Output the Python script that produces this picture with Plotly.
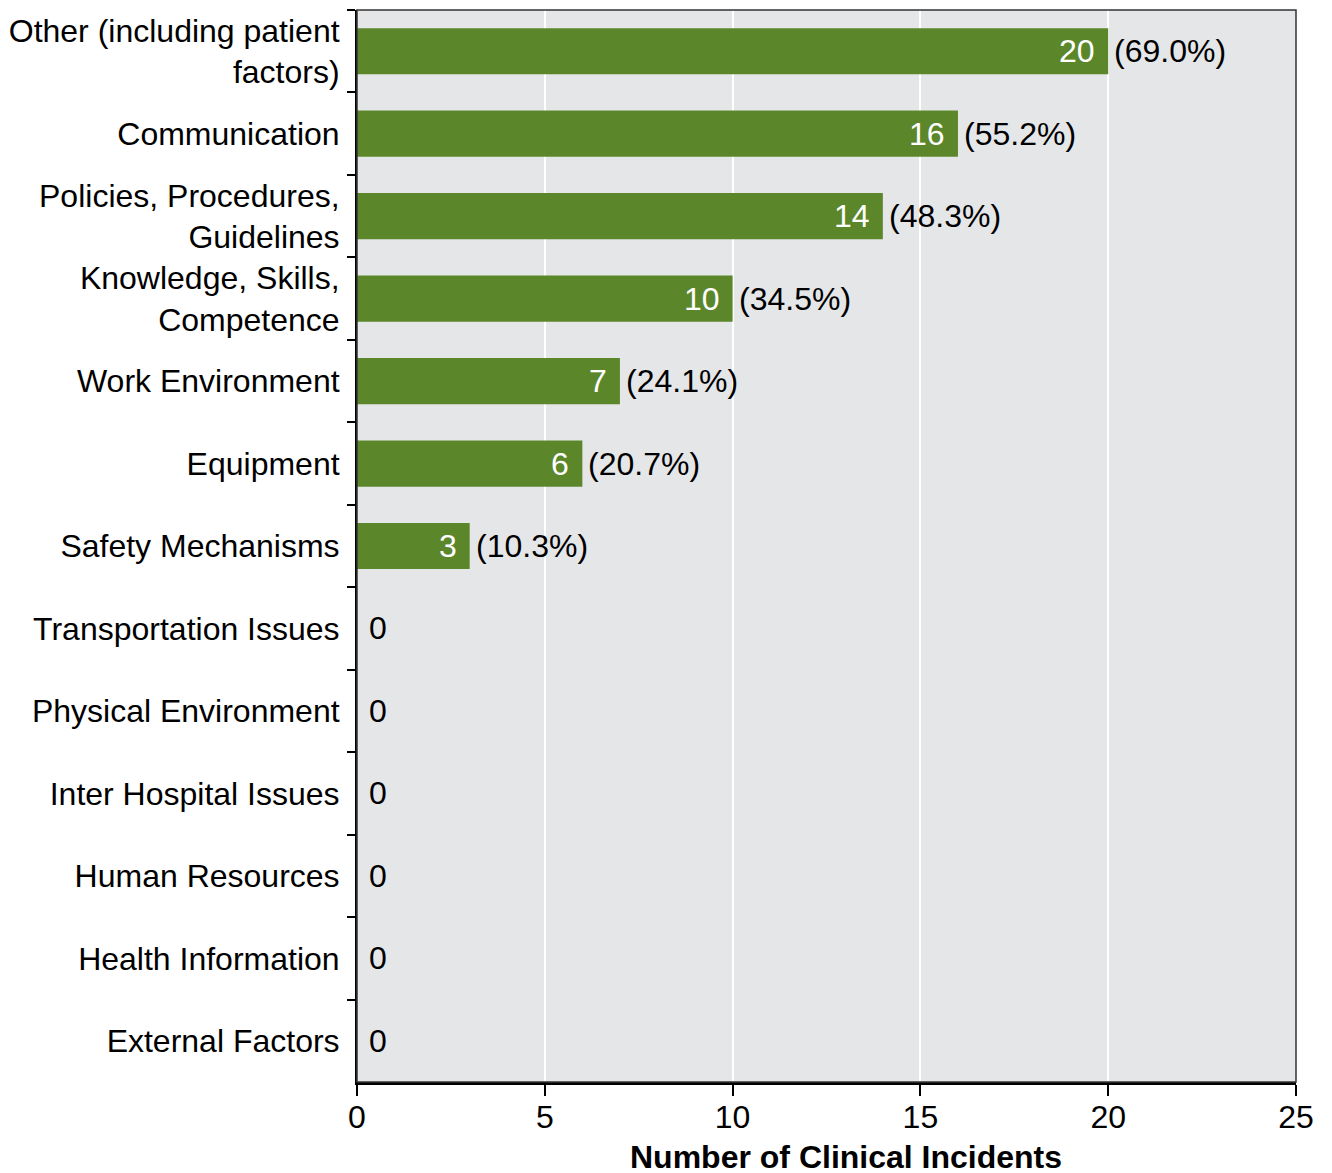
import plotly.graph_objects as go

categories = [
    "Other (including patient<br>factors)",
    "Communication",
    "Policies, Procedures,<br>Guidelines",
    "Knowledge, Skills,<br>Competence",
    "Work Environment",
    "Equipment",
    "Safety Mechanisms",
    "Transportation Issues",
    "Physical Environment",
    "Inter Hospital Issues",
    "Human Resources",
    "Health Information",
    "External Factors",
]
counts = [20, 16, 14, 10, 7, 6, 3, 0, 0, 0, 0, 0, 0]
percent_labels = ["(69.0%)", "(55.2%)", "(48.3%)", "(34.5%)", "(24.1%)", "(20.7%)", "(10.3%)",
                  "", "", "", "", "", ""]
x_ticks = [0, 5, 10, 15, 20, 25]
x_title = "Number of Clinical Incidents"

FONT = "Liberation Sans, Arial, Helvetica, sans-serif"
FS = 32
GREEN = "#5b872a"

fig = go.Figure()
fig.add_trace(go.Bar(
    y=categories, x=counts, orientation="h",
    marker=dict(color=GREEN, line=dict(width=0)),
    hoverinfo="x+y",
))

annotations = []
for cat, c, p in zip(categories, counts, percent_labels):
    if c > 0:
        annotations.append(dict(x=c, y=cat, xref="x", yref="y", text=str(c), showarrow=False,
                                xanchor="right", xshift=-11,
                                font=dict(family=FONT, size=FS, color="white")))
        annotations.append(dict(x=c, y=cat, xref="x", yref="y", text=p, showarrow=False,
                                xanchor="left", xshift=4,
                                font=dict(family=FONT, size=FS, color="black")))
    else:
        annotations.append(dict(x=c, y=cat, xref="x", yref="y", text=str(c), showarrow=False,
                                xanchor="left", xshift=10,
                                font=dict(family=FONT, size=FS, color="black")))

annotations.append(dict(x=0.521, y=0, xref="paper", yref="paper", yshift=-75,
                        text="<b>" + x_title + "</b>", showarrow=False,
                        xanchor="center", yanchor="middle",
                        font=dict(family=FONT, size=FS, color="black")))

# page has an 8px body margin, so the figure is sized/offset accordingly
fig.update_layout(
    width=1324, height=1165,
    margin=dict(l=349, r=36, t=2, b=91),
    paper_bgcolor="white",
    plot_bgcolor="#e5e6e8",
    bargap=0.44,
    showlegend=False,
    font=dict(family=FONT, size=FS, color="black"),
    annotations=annotations,
    shapes=[dict(type="rect", xref="paper", yref="paper", x0=0, x1=1, y0=0, y1=1,
                 line=dict(color="#333333", width=1.5), layer="above")],
)
fig.update_xaxes(
    range=[0, 25], tickvals=x_ticks, ticktext=[str(t) for t in x_ticks],
    showgrid=True, gridcolor="white", gridwidth=1.5,
    showline=True, linecolor="black", linewidth=3,
    ticks="outside", ticklen=11, tickwidth=1.5, tickcolor="black",
    ticklabelstandoff=-6,
    tickfont=dict(family=FONT, size=FS, color="black"),
    zeroline=False, fixedrange=True,
)
fig.update_yaxes(
    categoryorder="array", categoryarray=categories, autorange="reversed",
    showgrid=False, showline=True, linecolor="black", linewidth=2,
    ticks="outside", ticklen=8, tickwidth=1.5, tickcolor="black",
    tickson="boundaries", ticklabelstandoff=9,
    tickfont=dict(family=FONT, size=FS, color="black"),
    zeroline=False, fixedrange=True,
)

fig.write_html("out.html")
